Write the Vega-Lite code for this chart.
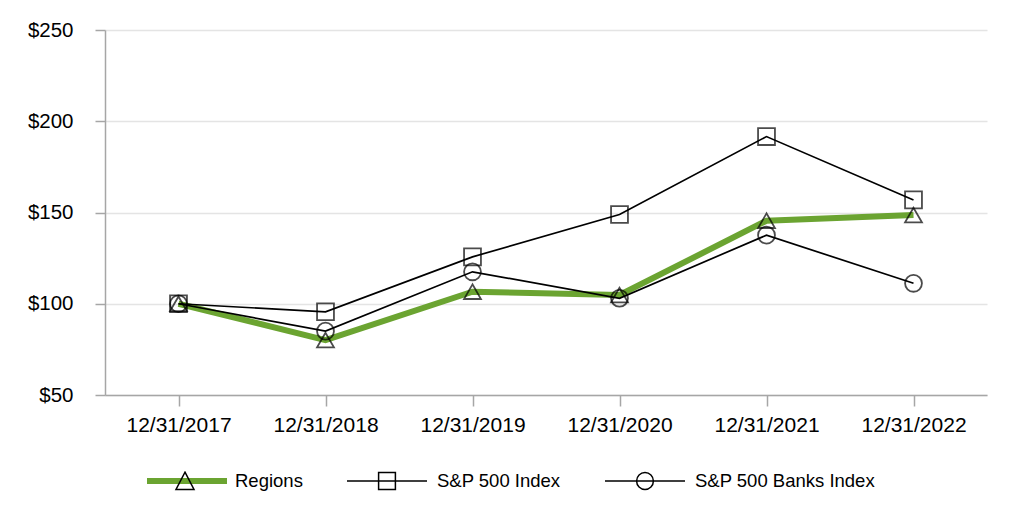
{
  "$schema": "https://vega.github.io/schema/vega-lite/v6.json",
  "autosize": {"type": "none"},
  "padding": {"left": 105, "top": 30, "right": 29, "bottom": 137},
  "width": 882,
  "height": 365,
  "background": "white",
  "config": {
    "view": {"stroke": null},
    "font": "Liberation Sans",
    "axis": {"labelFont": "Liberation Sans", "labelColor": "#000000", "title": null}
  },
  "data": {
    "values": [
      {"date": "12/31/2017", "series": "Regions", "name": "Regions", "value": 100},
      {"date": "12/31/2018", "series": "Regions", "name": "Regions", "value": 80.1},
      {"date": "12/31/2019", "series": "Regions", "name": "Regions", "value": 106.6},
      {"date": "12/31/2020", "series": "Regions", "name": "Regions", "value": 104.8},
      {"date": "12/31/2021", "series": "Regions", "name": "Regions", "value": 145.5},
      {"date": "12/31/2022", "series": "Regions", "name": "Regions", "value": 148.6},
      {"date": "12/31/2017", "series": "S&P 500 Index", "name": "S&P 500 Index", "value": 100},
      {"date": "12/31/2018", "series": "S&P 500 Index", "name": "S&P 500 Index", "value": 95.6},
      {"date": "12/31/2019", "series": "S&P 500 Index", "name": "S&P 500 Index", "value": 125.7},
      {"date": "12/31/2020", "series": "S&P 500 Index", "name": "S&P 500 Index", "value": 148.9},
      {"date": "12/31/2021", "series": "S&P 500 Index", "name": "S&P 500 Index", "value": 191.6},
      {"date": "12/31/2022", "series": "S&P 500 Index", "name": "S&P 500 Index", "value": 156.9},
      {"date": "12/31/2017", "series": "S&P 500 Banks Index", "name": "S&P 500 Banks Index", "value": 100},
      {"date": "12/31/2018", "series": "S&P 500 Banks Index", "name": "S&P 500 Banks Index", "value": 85.0},
      {"date": "12/31/2019", "series": "S&P 500 Banks Index", "name": "S&P 500 Banks Index", "value": 117.5},
      {"date": "12/31/2020", "series": "S&P 500 Banks Index", "name": "S&P 500 Banks Index", "value": 103.0},
      {"date": "12/31/2021", "series": "S&P 500 Banks Index", "name": "S&P 500 Banks Index", "value": 137.6},
      {"date": "12/31/2022", "series": "S&P 500 Banks Index", "name": "S&P 500 Banks Index", "value": 111.2}
    ]
  },
  "encoding": {
    "x": {
      "field": "date",
      "type": "nominal",
      "sort": null,
      "scale": {"type": "point", "padding": 0.5},
      "axis": {
        "labelAngle": 0,
        "labelFontSize": 21,
        "labelPadding": 8,
        "tickSize": 11,
        "tickColor": "#a6a6a6",
        "tickWidth": 1.5,
        "domainColor": "#a6a6a6",
        "domainWidth": 1.5,
        "grid": false
      }
    },
    "y": {
      "field": "value",
      "type": "quantitative",
      "scale": {"domain": [50, 250], "nice": false, "zero": false},
      "axis": {
        "values": [50, 100, 150, 200, 250],
        "format": "$.0f",
        "labelFontSize": 20.5,
        "labelPadding": 22,
        "tickSize": 10,
        "tickColor": "#a6a6a6",
        "tickWidth": 1.5,
        "domainColor": "#a6a6a6",
        "domainWidth": 1.5,
        "grid": true,
        "gridColor": "#e4e4e4",
        "gridWidth": 1.5
      }
    }
  },
  "resolve": {"scale": {"shape": "independent"}},
  "layer": [
    {
      "mark": {"type": "line", "strokeJoin": "miter"},
      "encoding": {
        "color": {
          "field": "series",
          "type": "nominal",
          "sort": null,
          "scale": {
            "domain": ["Regions", "S&P 500 Index", "S&P 500 Banks Index"],
            "range": ["#6ba431", "#000000", "#000000"]
          },
          "legend": {
            "orient": "none",
            "legendX": 39,
            "legendY": 441,
            "direction": "horizontal",
            "title": null,
            "padding": 0,
            "values": ["Regions"],
            "labelExpr": "''",
            "symbolType": "stroke",
            "symbolSize": 6400,
            "clipHeight": 20,
            "labelOffset": 9,
            "labelFontSize": 18.5,
            "encode": {
              "symbols": {
                "update": {
                  "strokeWidth": {"value": 5.5}
                }
              }
            }
          }
        },
        "strokeWidth": {
          "field": "series",
          "type": "nominal",
          "scale": {
            "type": "ordinal",
            "domain": ["Regions", "S&P 500 Index", "S&P 500 Banks Index"],
            "range": [6, 1.7, 1.7]
          },
          "legend": null
        }
      }
    },
    {
      "mark": {"type": "point", "filled": false, "color": "#000000", "strokeWidth": 1.8, "size": 285},
      "encoding": {
        "shape": {
          "field": "name",
          "type": "nominal",
          "sort": null,
          "scale": {"range": ["triangle-up", "square", "circle"]},
          "legend": null
        }
      }
    },
    {
      "mark": {"type": "point", "filled": false, "color": "#000000", "strokeWidth": 1.7, "size": 6400, "opacity": 0},
      "encoding": {
        "shape": {
          "field": "name",
          "type": "nominal",
          "sort": null,
          "scale": {
            "range": [
              "M-1,0M1,0M0,-0.22L0.225,0.21L-0.225,0.21Z",
              "M-1,0H1M-0.21,-0.21H0.21V0.21H-0.21Z",
              "M-1,0H1M-0.21,0A0.21,0.21,0,1,0,0.21,0A0.21,0.21,0,1,0,-0.21,0Z"
            ]
          },
          "legend": {
            "orient": "none",
            "legendX": 39,
            "legendY": 441,
            "direction": "horizontal",
            "title": null,
            "padding": 0,
            "symbolSize": 6400,
            "symbolOpacity": 1,
            "clipHeight": 20,
            "columnPadding": 43,
            "labelOffset": 9,
            "labelLimit": 0,
            "labelFont": "Liberation Sans",
            "labelFontSize": 18.5,
            "labelColor": "#000000",
            "encode": {
              "symbols": {
                "update": {
                  "stroke": {"value": "#000000"},
                  "strokeWidth": {"value": 1.7},
                  "fill": {"signal": "datum.value === 'Regions' ? '#ffffff' : 'transparent'"},
                  "opacity": {"value": 1}
                }
              }
            }
          }
        }
      }
    }
  ]
}
